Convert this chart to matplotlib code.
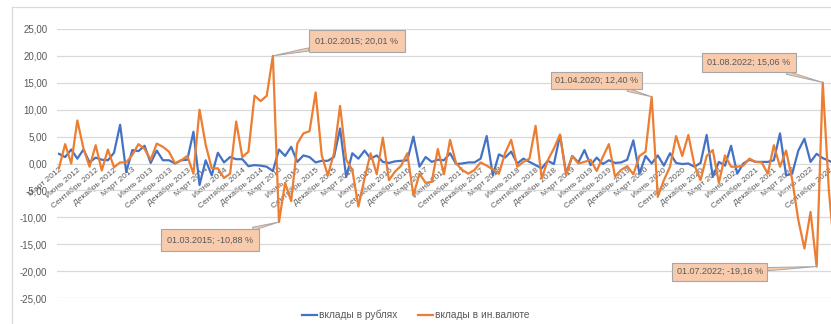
import matplotlib
matplotlib.use("Agg")
import matplotlib.pyplot as plt
from matplotlib.lines import Line2D

plt.rcParams['font.family'] = ['Liberation Sans', 'DejaVu Sans']

# monthly change, %, March 2012 .. October 2022
start_year = 2012
start_month = 3
month_names = ["Январь", "Февраль", "Март", "Апрель", "Май", "Июнь", "Июль",
               "Август", "Сентябрь", "Октябрь", "Ноябрь", "Декабрь"]

rub = [1.8, 1.2, 2.6, 0.9, 2.6, 0.2, 1.1, 0.7, 0.6, 2.0,
       7.2, -1.6, 2.5, 2.3, 3.3, 0.1, 2.4, 0.6, 0.6, 0.0,
       0.6, 0.7, 5.9, -4.0, 0.6, -2.2, 2.0, 0.2, 1.2, 0.8,
       0.8, -0.5, -0.3, -0.4, -0.6, -1.4, 2.6, 1.4, 3.1, 0.3,
       1.5, 1.2, 0.2, 0.5, 0.5, 1.2, 6.5, -2.5, 1.9, 0.9,
       2.4, 0.9, 1.5, 0.3, 0.1, 0.4, 0.5, 0.6, 5.0, -0.6,
       1.2, 0.3, 0.7, 0.6, 1.9, -0.1, 0.0, 0.2, 0.2, 0.9,
       5.1, -2.2, 1.7, 1.1, 2.2, 0.0, 0.9, 0.3, -0.3, -0.9,
       0.5, -0.1, 5.3, -1.9, 1.4, 0.2, 2.5, -0.3, 1.1, -0.1,
       0.6, 0.1, 0.2, 0.7, 4.3, -1.9, 1.4, 0.0, 1.5, -0.4,
       1.9, 0.1, -0.1, 0.0, -0.6, 0.1, 5.3, -2.5, 0.3, -0.4,
       3.3, -1.9, 0.0, 0.7, 0.3, 0.3, 0.3, 0.6, 5.6, -2.2,
       -1.9, 2.4, 4.6, 0.3, 1.8, 1.0, 0.5, 0.0]

fx = [-0.8, 3.6, 0.0, 8.0, 2.8, -0.6, 3.4, -1.3, 2.6, -0.7,
      0.2, 0.2, 1.6, 3.6, 2.7, 0.7, 3.7, 3.1, 2.2, 0.0,
      0.6, 1.4, -1.9, 10.0, 3.5, -0.9, -0.9, -2.7, -1.9, 7.8,
      1.2, 2.2, 12.6, 11.6, 12.6, 20.01, -10.88, -3.6, -7.0, 3.7,
      5.6, 6.0, 13.2, 1.5, -2.2, 1.9, 10.7, 0.7, -1.2, -8.0,
      -2.8, 1.9, -2.0, 4.8, -3.1, -1.5, -0.4, 1.9, -5.9, -1.9,
      -3.6, -3.4, 2.7, -2.0, 4.4, 0.0, -1.2, -1.9, -1.2, 0.2,
      -0.4, -1.1, -1.9, 1.9, 4.4, -0.6, 0.3, 0.9, 7.0, -2.8,
      0.6, 2.8, 5.4, -2.2, 1.4, 0.0, 0.3, 0.7, -1.4, 1.2,
      3.6, -2.4, -1.2, -0.5, -2.0, 1.4, 2.2, 12.40, -6.2, -3.1,
      -0.6, 5.1, 1.4, 5.3, -0.3, -3.1, 1.4, 2.5, -3.6, 1.5,
      -0.6, -0.6, -0.4, 0.9, 0.3, 0.2, -1.9, 3.4, -0.6, 2.4,
      -3.0, -10.5, -15.8, -9.0, -19.16, 15.06, -5.0, -17.5]

# callouts: month index, label
callout_idx = [35, 36, 97, 125, 124]
callout_text = ["01.02.2015; 20,01 %", "01.03.2015; -10,88 %",
                "01.04.2020; 12,40 %", "01.08.2022; 15,06 %",
                "01.07.2022; -19,16 %"]
callout_offset = [(84, 15), (-69, -18), (-55, 16), (-74, 20), (-97, -5)]
callout_pad = [0.7, 0.7, 0.45, 0.6, 0.5]

x = list(range(len(rub)))
tick_pos = list(range(0, len(rub), 3))
tick_labels = []
for t in tick_pos:
    mm = start_month - 1 + t
    tick_labels.append("{0} {1}".format(month_names[mm % 12], start_year + mm // 12))

grey = '#595959'
fig = plt.figure(figsize=(8.31, 3.24), dpi=100)
ax = fig.add_axes([57 / 831, 1 - 298 / 324, 1 - 57 / 831, 269 / 324])

ax.plot(x, rub, color='#4472C4', lw=1.6, label='вклады в рублях', solid_joinstyle='round')
ax.plot(x, fx, color='#ED7D31', lw=1.6, label='вклады в ин.валюте', solid_joinstyle='round')

ax.set_ylim(-25, 25)
ax.set_xlim(-0.33, 126.35)
ax.set_yticks(range(-25, 30, 5))
ax.set_yticklabels(["{0:.2f}".format(v).replace(".", ",") for v in range(-25, 30, 5)],
                   fontsize=7, color=grey)
ax.yaxis.grid(True, color='#D9D9D9', lw=0.9)
ax.set_axisbelow(True)
for s in ax.spines.values():
    s.set_visible(False)
ax.spines['bottom'].set_position(('data', 0))
ax.set_xticks(tick_pos)
ax.set_xticklabels(tick_labels, rotation=40, ha='right', rotation_mode='anchor',
                   fontsize=6, color=grey)
ax.tick_params(axis='both', length=0)
ax.tick_params(axis='x', pad=2)
ax.tick_params(axis='y', pad=7)

for i, txt, off, pd in zip(callout_idx, callout_text, callout_offset, callout_pad):
    ax.annotate(txt, xy=(i, fx[i]), xytext=off, textcoords='offset pixels',
                ha='center', va='center', fontsize=6.5, color=grey,
                bbox=dict(boxstyle='square,pad={0}'.format(pd), fc='#F8CBAD',
                          ec='#A6A6A6', lw=0.8),
                arrowprops=dict(arrowstyle='wedge,tail_width=0.35', fc='#F8CBAD',
                                ec='#A6A6A6', lw=0.7, shrinkA=0, shrinkB=0))

ax.legend(loc='center', bbox_to_anchor=(0.5, 0.028), bbox_transform=fig.transFigure,
          ncol=2, frameon=False, fontsize=7.3, labelcolor=grey,
          handlelength=1.5, handletextpad=0.2, columnspacing=2.0)

# chart area border
fig.add_artist(Line2D([12 / 831, 12 / 831], [0, 1 - 7 / 324], color='#D9D9D9', lw=0.9))
fig.add_artist(Line2D([12 / 831, 1], [1 - 7 / 324, 1 - 7 / 324], color='#D9D9D9', lw=0.9))

fig.savefig("out.png", dpi=100, facecolor='white')
